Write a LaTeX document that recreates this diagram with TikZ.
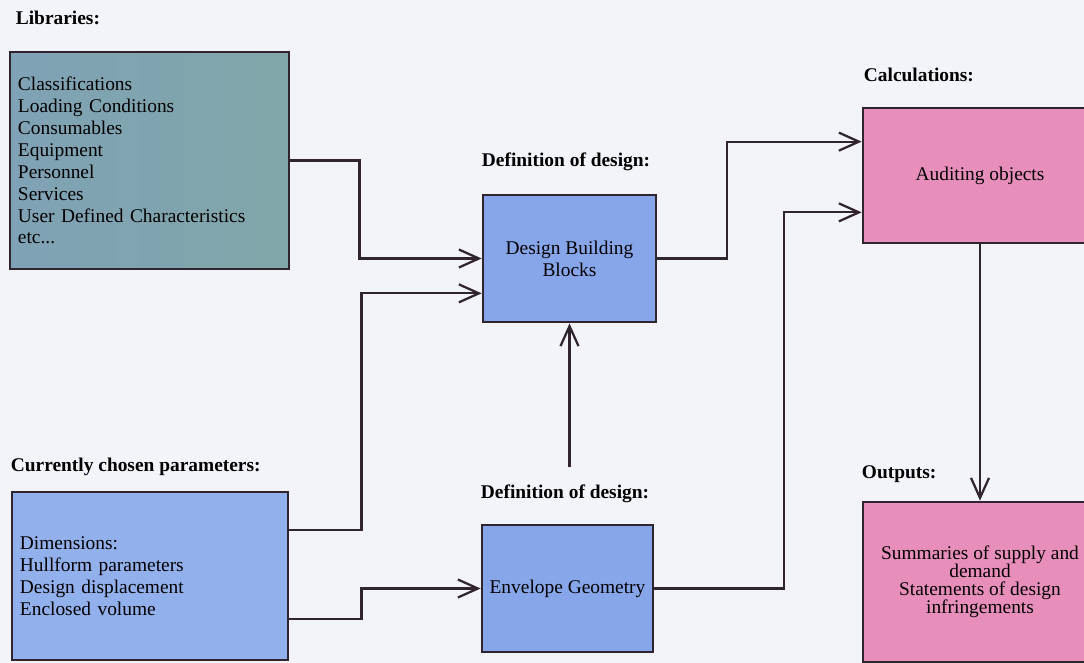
\documentclass[tikz,border=0pt]{standalone}
\usepackage{fontspec}
\setmainfont{Liberation Serif}
\usetikzlibrary{
  arrows.meta,
  calc,
  positioning
}
\definecolor{paperwhite}{RGB}{243,244,249}
\definecolor{inkdark}{RGB}{48,36,46}
\definecolor{libblue}{RGB}{128,162,182}
\definecolor{libgreen}{RGB}{148,176,136}
\definecolor{libteal}{RGB}{128,166,168}
\definecolor{parblue}{RGB}{146,176,236}
\definecolor{defblue}{RGB}{135,166,234}
\definecolor{calcpink}{RGB}{232,142,187}

\begin{document}
\begin{tikzpicture}[
  x=0.025cm, y=-0.025cm,
  font=\fontsize{13.8}{15.6}\selectfont,
  box/.style={draw=inkdark, line width=1.9pt, align=center, inner sep=0pt},
  listbox/.style={box, align=left, inner xsep=0.2cm},
  libbox/.style={listbox, left color=libblue, middle color=libgreen, right color=libteal},
  parbox/.style={listbox, fill=parblue},
  defbox/.style={box, fill=defblue},
  calcbox/.style={box, fill=calcpink},
  tag/.style={font=\fontsize{13.8}{15.6}\selectfont\bfseries, inner sep=0pt,
              text height=0.7em, text depth=0.25em},
  arr/.style={-{Straight Barb[length=5mm, width=4.5mm]}, line width=1.6pt, draw=inkdark}
]

\path[use as bounding box, fill=paperwhite] (0,0) rectangle (1084,663);

% inputs
\node[libbox, minimum width=6.975cm, minimum height=5.425cm, text width=6.575cm]
  (libs) at (149.5,160.5)
  {Classifications\\Loading Conditions\\Consumables\\Equipment\\Personnel\\Services\\User Defined Characteristics\\etc...};
\node[parbox, minimum width=6.9cm, minimum height=4.2cm, text width=6.5cm]
  (params) at (150,576)
  {Dimensions:\\Hullform parameters\\Design displacement\\Enclosed volume};

% definition of design
\node[defbox, minimum width=4.325cm, minimum height=3.175cm] (design) at (569.5,258.5) {Design Building\\Blocks};
\node[defbox, minimum width=4.275cm, minimum height=3.175cm] (envelope) at (567.5,588.5) {Envelope Geometry};

% calculations and outputs
\node[calcbox, minimum width=5.85cm, minimum height=3.375cm] (audit) at (980,175.5) {Auditing objects};
\node[calcbox, minimum width=5.85cm, minimum height=4cm, font=\fontsize{13.8}{12.8}\selectfont]
  (outputs) at (980,582)
  {Summaries of supply and\\demand\\Statements of design\\infringements};

% headings
\node[tag, above right=0.57cm and 0.175cm of libs.north west] (libtag) {Libraries:};
\node[tag, above right=0.39cm and 0cm of params.north west] (partag) {Currently chosen parameters:};
\node[tag, above right=0.59cm and 0cm of design.north west] (designtag) {Definition of design:};
\node[tag, above right=0.54cm and 0cm of envelope.north west] (envtag) {Definition of design:};
\node[tag, above right=0.54cm and 0.05cm of audit.north west] (audittag) {Calculations:};
\node[tag, above right=0.47cm and 0cm of outputs.north west] (outtag) {Outputs:};

% connectors
\coordinate (feed) at ($(design.south)+(0,144)$);
\draw[arr] (libs.east) -- ++(69,0) |- (design.west);
\draw[arr] ($(params.north east)+(0,39)$) -- ++(72,0) |- ($(design.south west)+(0,-30)$);
\draw[arr] ($(params.south east)+(0,-42)$) -- ++(72,0) |- (envelope.west);
\draw[arr] (feed) -- (design.south);
\draw[arr] (design.east) -- ++(70,0) |- ($(audit.north west)+(0,35)$);
\draw[arr] (envelope.east) -- ++(130,0) |- ($(audit.south west)+(0,-32)$);
\draw[arr] (audit.south) -- (outputs.north);

\end{tikzpicture}
\end{document}
